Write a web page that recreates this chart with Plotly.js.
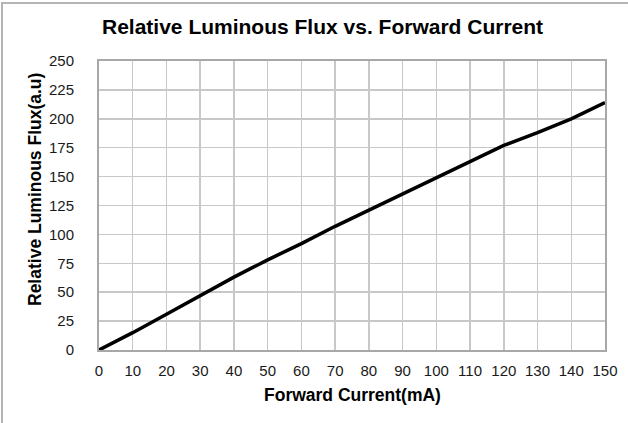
<!DOCTYPE html>
<html><head><meta charset="utf-8">
<script src="https://cdn.plot.ly/plotly-3.0.1.min.js"></script>
<style>
body{margin:0;padding:0;background:#fff;overflow:hidden;}
#chart{position:absolute;left:0;top:0;width:628px;height:423px;}
#frame{position:absolute;left:1px;top:2px;width:640px;height:440px;border:2px solid #b4b4b4;pointer-events:none;}
</style></head>
<body>
<div id="chart"></div>
<div id="frame"></div>
<script>
const current = [0,10,20,30,40,50,60,70,80,90,100,110,120,130,140,150];
const flux = [0,15,31,47,63,78,92,107,121,135,149,163,177,188,200,214];
const xTicks = [0,10,20,30,40,50,60,70,80,90,100,110,120,130,140,150];
const yTicks = [0,25,50,75,100,125,150,175,200,225,250];
const chartTitle = 'Relative Luminous Flux vs. Forward Current';
const xTitle = 'Forward Current(mA)';
const yTitle = 'Relative Luminous Flux(a.u)';

const trace = {x: current, y: flux, type:'scatter', mode:'lines',
  line:{color:'#000', width:3.5}, hoverinfo:'skip'};

const layout = {
  width:628, height:423,
  margin:{l:99, r:23, t:61, b:73},
  paper_bgcolor:'#fff', plot_bgcolor:'#fff',
  showlegend:false,
  font:{family:'Liberation Sans, Arial, sans-serif', color:'#000'},
  xaxis:{range:[0,150], tickvals:xTicks, ticktext:xTicks.map(String),
    showgrid:true, gridcolor:'#c8c8c8', gridwidth:1.5,
    showline:true, linecolor:'#a8a8a8', linewidth:2, mirror:true,
    ticks:'', zeroline:false, tickfont:{size:15, color:'#1a1a1a'},
    ticklabelstandoff:6},
  yaxis:{range:[0,250], tickvals:yTicks, ticktext:yTicks.map(String),
    showgrid:true, gridcolor:'#c8c8c8', gridwidth:1.5,
    showline:true, linecolor:'#a8a8a8', linewidth:2, mirror:true,
    ticks:'', zeroline:false, tickfont:{size:15, color:'#1a1a1a'},
    ticklabelstandoff:20},
  annotations:[
    {text:'<b>'+chartTitle+'</b>', xref:'paper', yref:'paper',
     x:(322-99)/506, y:(350-27)/289, xanchor:'center', yanchor:'middle',
     showarrow:false, font:{size:21, color:'#000'}},
    {text:'<b>'+xTitle+'</b>', xref:'paper', yref:'paper',
     x:(352.5-99)/506, y:(350-395)/289, xanchor:'center', yanchor:'middle',
     showarrow:false, font:{size:17.5, color:'#000'}},
    {text:'<b>'+yTitle+'</b>', xref:'paper', yref:'paper', textangle:-90,
     x:(35-99)/506, y:(350-190)/289, xanchor:'center', yanchor:'middle',
     showarrow:false, font:{size:17.5, color:'#000'}}
  ]
};
Plotly.newPlot('chart',[trace],layout,{staticPlot:true,displayModeBar:false});
</script>
</body></html>
